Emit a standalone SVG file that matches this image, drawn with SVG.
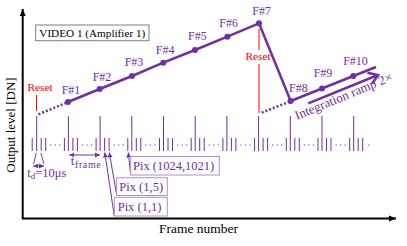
<svg xmlns="http://www.w3.org/2000/svg" width="407" height="246" viewBox="0 0 407 246">
<style>
.t{font-family:"Liberation Serif","Times New Roman",serif;}
.p{fill:#7030a0;}
.r{fill:#ff0000;}
.pl{stroke:#7030a0;stroke-width:1;fill:none;}
.box{fill:#fff;stroke:#b18ed3;stroke-width:1;}
</style>
<defs>
<marker id="ab" markerWidth="8" markerHeight="8" refX="7" refY="4" orient="auto" markerUnits="userSpaceOnUse"><path d="M0,1 L7,4 L0,7 Z" fill="#000"/></marker>
<marker id="ap" markerWidth="6" markerHeight="6" refX="5" refY="3" orient="auto" markerUnits="userSpaceOnUse"><path d="M0,0.5 L5,3 L0,5.5 Z" fill="#7030a0"/></marker>
<marker id="aps" markerWidth="6" markerHeight="6" refX="1" refY="3" orient="auto" markerUnits="userSpaceOnUse"><path d="M6,0.5 L1,3 L6,5.5 Z" fill="#7030a0"/></marker>
<marker id="av" markerWidth="14" markerHeight="14" refX="11" refY="7" orient="auto" markerUnits="userSpaceOnUse"><path d="M2,1 L11,7 L2,13" fill="none" stroke="#7030a0" stroke-width="2.5"/></marker>
</defs>
<rect width="407" height="246" fill="#fff"/>

<g id="axes">
<line x1="22.7" y1="219" x2="22.7" y2="9" stroke="#000" stroke-width="2" marker-end="url(#ab)"/>
<line x1="22" y1="218.5" x2="396" y2="218.5" stroke="#000" stroke-width="2" marker-end="url(#ab)"/>
<text class="t" x="0" y="0" font-size="13" text-anchor="middle" transform="translate(15,125) rotate(-90)">Output level [DN]</text>
<text class="t" x="198.5" y="232.7" font-size="13.5" text-anchor="middle">Frame number</text>
</g>

<g id="video-label">
<rect x="35.7" y="25" width="113.3" height="15.7" fill="#fff" stroke="#7f7f7f" stroke-width="1"/>
<text class="t" x="92.3" y="36.5" font-size="11.2" text-anchor="middle">VIDEO 1 (Amplifier 1)</text>
</g>

<g id="pulses">
<path class="pl" d="M36.7,116V151 M68.4,116V151 M100.1,116V151 M131.8,116V151 M163.5,116V151 M195.2,116V151 M226.9,116V151 M258.6,116V151 M290.3,116V151 M322,116V151 M353.7,116V151"/>
<path class="pl" d="M32.2,138V151 M41.2,138V151 M45.7,138V151 M64.4,138V151 M72.9,138V151 M77.4,138V151 M96.1,138V151 M104.6,138V151 M109.1,138V151 M127.8,138V151 M136.3,138V151 M140.8,138V151 M159.5,138V151 M168,138V151 M172.5,138V151 M191.2,138V151 M199.7,138V151 M204.2,138V151 M222.9,138V151 M231.4,138V151 M235.9,138V151 M254.6,138V151 M263.1,138V151 M267.6,138V151 M286.3,138V151 M294.8,138V151 M299.3,138V151 M318,138V151 M326.5,138V151 M331,138V151 M349.7,138V151 M358.2,138V151 M362.7,138V151"/>
<path d="M50.2,145H61 M81.9,145H92.7 M113.6,145H124.4 M145.3,145H156.1 M177,145H187.8 M208.7,145H219.5 M240.4,145H251.2 M272.1,145H282.9 M303.8,145H314.6 M335.5,145H346.3 M368.2,145H369.4" stroke="#7030a0" stroke-width="1.2" stroke-dasharray="1.2 3.3" fill="none"/>
</g>

<g id="reset1">
<line x1="36.5" y1="95" x2="36.5" y2="111" stroke="#ff0000" stroke-width="1"/>
<text class="t r" x="40" y="90.7" font-size="11.3" text-anchor="middle">Reset</text>
</g>
<g id="reset2">
<line x1="259" y1="29" x2="259" y2="50" stroke="#ff0000" stroke-width="1"/>
<line x1="259" y1="64" x2="259" y2="113" stroke="#ff0000" stroke-width="1"/>
<text class="t r" x="258" y="59.5" font-size="11.3" text-anchor="middle">Reset</text>
</g>

<g id="connectors">
<line x1="38.5" y1="114.3" x2="66" y2="103" stroke="#7030a0" stroke-width="2.5" stroke-dasharray="2 2"/>
<line x1="261.7" y1="112.7" x2="288.5" y2="102" stroke="#7030a0" stroke-width="2.5" stroke-dasharray="2 2"/>
<polyline points="68,102 99.7,89 132,76 163.3,62.7 195,50 227.3,36.7 259,23.3 290.7,101 322,88.5 353.3,76 376,67" fill="none" stroke="#7030a0" stroke-width="2.5" stroke-linejoin="round"/>
<line x1="308.3" y1="103.3" x2="378" y2="75" stroke="#7030a0" stroke-width="2.5" marker-end="url(#av)"/>
<line x1="44" y1="166" x2="33.3" y2="166" stroke="#7030a0" stroke-width="1" marker-end="url(#ap)" marker-start="url(#aps)"/>
<path d="M36.2,153 L33.6,164 M40.9,153 L44,164" stroke="#7030a0" stroke-width="0.9" fill="none"/>
<line x1="69.3" y1="155" x2="100" y2="155" stroke="#7030a0" stroke-width="1" marker-end="url(#ap)" marker-start="url(#aps)"/>
<line x1="114.3" y1="216" x2="104.8" y2="152.5" stroke="#7030a0" stroke-width="1" marker-end="url(#ap)"/>
<line x1="116.7" y1="195" x2="109.3" y2="152.5" stroke="#7030a0" stroke-width="1" marker-end="url(#ap)"/>
<line x1="130.7" y1="175" x2="128.3" y2="152.5" stroke="#7030a0" stroke-width="1" marker-end="url(#ap)"/>
</g>

<g id="frames">
<circle class="p" cx="68" cy="102" r="3"/>
<circle class="p" cx="99.7" cy="89" r="3"/>
<circle class="p" cx="132" cy="76" r="3"/>
<circle class="p" cx="163.3" cy="62.7" r="3"/>
<circle class="p" cx="195" cy="50" r="3"/>
<circle class="p" cx="227.3" cy="36.7" r="3"/>
<circle class="p" cx="259" cy="23.3" r="3"/>
<circle class="p" cx="290.7" cy="101" r="3"/>
<circle class="p" cx="322" cy="88.5" r="3"/>
<circle class="p" cx="353.3" cy="76" r="3"/>
<g class="t p" font-size="12" text-anchor="middle">
<text x="71" y="94.3">F#1</text>
<text x="102" y="81">F#2</text>
<text x="134" y="65.7">F#3</text>
<text x="165.2" y="54.3">F#4</text>
<text x="197.3" y="40">F#5</text>
<text x="228.7" y="27.3">F#6</text>
<text x="261.7" y="15">F#7</text>
<text x="298.3" y="91.7">F#8</text>
<text x="323" y="77.3">F#9</text>
<text x="355.5" y="65">F#10</text>
</g>
</g>

<g id="ramp-label">
<text class="t p" x="0" y="0" font-size="13" transform="translate(297,120) rotate(-22.5)">Integration ramp 2×</text>
</g>

<g id="td-label">
<text class="t p" x="27.3" y="177.3" font-size="12.5">t<tspan font-size="9" dy="2">d</tspan><tspan dy="-2">=10μs</tspan></text>
</g>
<g id="tframe-label">
<text class="t p" x="70.7" y="165.3" font-size="13">t</text>
<text class="t p" x="75" y="167.5" font-size="10" textLength="25.7" lengthAdjust="spacing">frame</text>
</g>

<g id="pix1024">
<rect class="box" x="130.7" y="156.5" width="88.6" height="18.5"/>
<text class="t p" x="133" y="169.8" font-size="12.5">Pix (1024,1021)</text>
</g>
<g id="pix15">
<rect class="box" x="116.7" y="177.7" width="50.6" height="17.8"/>
<text class="t p" x="119.3" y="190.5" font-size="12.5">Pix (1,5)</text>
</g>
<g id="pix11">
<rect class="box" x="114.3" y="197.3" width="53" height="18.7"/>
<text class="t p" x="117.7" y="210.5" font-size="12.5">Pix (1,1)</text>
</g>
</svg>
